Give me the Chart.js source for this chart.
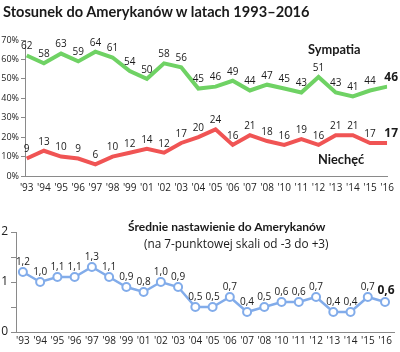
<!DOCTYPE html>
<html>
<head>
<meta charset="utf-8">
<script src="https://cdn.jsdelivr.net/npm/chart.js@4/dist/chart.umd.min.js"></script>
<style>
  body { margin: 0; background: #fff; font-family: 'Open Sans', sans-serif; }
  #wrap { position: relative; width: 400px; height: 352px; overflow: hidden; }
  canvas { position: absolute; left: 0; }
  .txt { position: absolute; white-space: nowrap; line-height: 1; color: #1a1a1a; }
  .b { font-family: Lato, sans-serif; font-weight: 700; }
</style>
</head>
<body>
<div id="wrap">
  <canvas id="top" width="400" height="200" style="top:0"></canvas>
  <canvas id="bottom" width="400" height="152" style="top:200px"></canvas>
  <div class="txt b" style="left:3px;top:5px;font-size:14.6px;">Stosunek do Amerykanów w latach 1993–2016</div>
  <div class="txt b" style="left:308px;top:43px;font-size:12.8px;">Sympatia</div>
  <div class="txt b" style="left:318px;top:153px;font-size:12.8px;">Niechęć</div>
  <div class="txt b" style="left:128px;top:221px;font-size:12px;">Średnie nastawienie do Amerykanów</div>
  <div class="txt" style="left:144px;top:238px;font-size:11.8px;">(na 7-punktowej skali od -3 do +3)</div>
</div>
<script>
const years = ["'93", "'94", "'95", "'96", "'97", "'98", "'99", "'01", "'02", "'03", "'04",
               "'05", "'06", "'07", "'08", "'10", "'11", "'12", "'13", "'14", "'15", "'16"];
const sympatia = [62, 58, 63, 59, 64, 61, 54, 50, 58, 56, 45, 46, 49, 44, 47, 45, 43, 51, 43, 41, 44, 46];
const niechec = [9, 13, 10, 9, 6, 10, 12, 14, 12, 17, 20, 24, 16, 21, 18, 16, 19, 16, 21, 21, 17, 17];
const srednie = [1.2, 1.0, 1.1, 1.1, 1.3, 1.1, 0.9, 0.8, 1.0, 0.9, 0.5, 0.5, 0.7, 0.4, 0.5, 0.6, 0.6, 0.7, 0.4, 0.4, 0.7, 0.6];

const GREEN = 'rgb(111, 210, 100)';
const RED = 'rgb(240, 84, 84)';
const BLUE = 'rgb(130, 172, 234)';
const AXIS = '#8a8a8a';
const FONT = "'Open Sans', sans-serif";

const toXY = arr => arr.map((v, i) => ({ x: i, y: v }));

// draws value labels above each point, last one bold
const valueLabels = {
  id: 'valueLabels',
  afterDatasetsDraw(chart, args, opts) {
    const ctx = chart.ctx;
    chart.data.datasets.forEach((ds, di) => {
      const meta = chart.getDatasetMeta(di);
      meta.data.forEach((pt, i) => {
        const last = i === meta.data.length - 1;
        const txt = opts.format(ds.data[i].y);
        ctx.save();
        ctx.fillStyle = '#1a1a1a';
        ctx.textAlign = 'center';
        ctx.textBaseline = 'bottom';
        if (last) {
          ctx.font = "bold 12px " + FONT;
          ctx.fillText(txt, pt.x + (opts.lastDx || 0), pt.y - (opts.lastDy || 4));
        } else {
          ctx.font = "10px " + FONT;
          ctx.fillText(txt, pt.x, pt.y - (opts.dy || 4));
        }
        ctx.restore();
      });
    });
  }
};

function xScale(min, max, height, pad) {
  return {
    type: 'linear',
    min: min,
    max: max,
    afterBuildTicks: axis => { axis.ticks = years.map((_, i) => ({ value: i })); },
    afterFit: axis => { axis.height = height; },
    grid: { display: false, drawTicks: false, tickLength: 0 },
    border: { display: true, color: AXIS, width: 1 },
    ticks: {
      autoSkip: false,
      maxRotation: 0,
      padding: pad,
      color: '#222',
      font: { family: FONT, size: 10 },
      callback: v => years[v]
    }
  };
}

new Chart(document.getElementById('top'), {
  type: 'line',
  data: {
    datasets: [
      { data: toXY(sympatia), borderColor: GREEN, borderWidth: 4, pointRadius: 0, tension: 0 },
      { data: toXY(niechec), borderColor: RED, borderWidth: 4, pointRadius: 0, tension: 0 }
    ]
  },
  options: {
    responsive: false,
    animation: false,
    layout: { padding: { top: 40, right: 10, left: 0, bottom: 0 } },
    plugins: {
      legend: { display: false },
      tooltip: { enabled: false },
      valueLabels: { format: v => String(v), dy: 4, lastDx: 4, lastDy: 3 }
    },
    scales: {
      x: xScale(-0.1, 21, 24, 6),
      y: {
        min: 0,
        max: 70,
        afterFit: axis => { axis.width = 25; },
        grid: { drawOnChartArea: false, drawTicks: true, tickLength: 4, color: AXIS },
        border: { display: true, color: AXIS },
        ticks: {
          stepSize: 10,
          padding: 2,
          color: '#222',
          font: { family: FONT, size: 9 },
          callback: v => v + '%'
        }
      }
    }
  },
  plugins: [valueLabels]
});

new Chart(document.getElementById('bottom'), {
  type: 'line',
  data: {
    datasets: [
      {
        data: toXY(srednie),
        borderColor: BLUE,
        borderWidth: 2.5,
        pointRadius: 4,
        pointBorderWidth: 2,
        pointBackgroundColor: '#fff',
        pointBorderColor: BLUE,
        tension: 0
      }
    ]
  },
  options: {
    responsive: false,
    animation: false,
    layout: { padding: { top: 32, right: 2, left: 0, bottom: 0 } },
    plugins: {
      legend: { display: false },
      tooltip: { enabled: false },
      valueLabels: { format: v => v.toFixed(1).replace('.', ','), dy: 5, lastDx: 1, lastDy: 5 }
    },
    scales: {
      x: xScale(-0.4, 21.52, 20, 3),
      y: {
        min: 0,
        max: 2,
        afterFit: axis => { axis.width = 16; },
        grid: { drawOnChartArea: false, drawTicks: true, tickLength: 5, color: AXIS },
        border: { display: true, color: AXIS },
        ticks: {
          stepSize: 0.5,
          padding: 3,
          color: '#222',
          font: { family: FONT, size: 12 },
          callback: v => (v % 1 === 0 ? String(v) : '')
        }
      }
    }
  },
  plugins: [valueLabels]
});
</script>
</body>
</html>
